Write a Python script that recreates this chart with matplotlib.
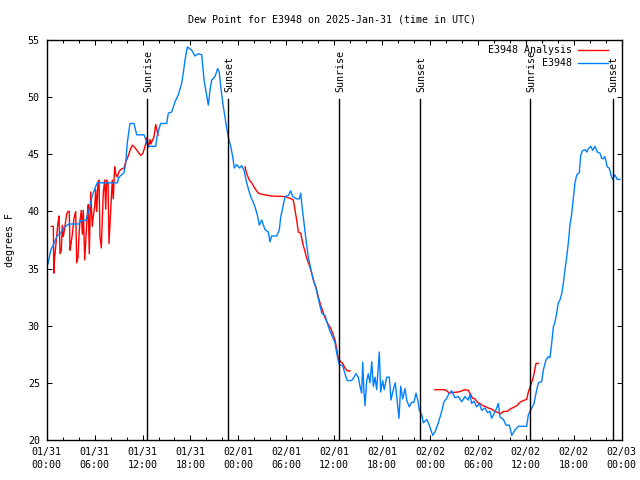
import numpy as np
import matplotlib
matplotlib.use("Agg")
import matplotlib.pyplot as plt
from matplotlib.ticker import MultipleLocator

plt.rcParams['font.family'] = ['DejaVu Sans Mono']
FS = 7.2

# hours since 2025-01-31 00:00 UTC
obs_hours = [0.16, 0.50, 0.91, 1.33, 1.75, 2.17, 2.79, 4.04, 4.26, 4.88, 5.30, 5.71, 6.14, 6.34, 8.84,
             9.05, 9.68, 9.89, 10.09, 10.43, 10.93, 11.27, 12.18, 12.40, 12.68, 13.65, 13.85, 14.27,
             15.03, 15.23, 15.65, 16.07, 16.48, 16.90, 17.10, 17.32, 17.61, 18.16, 18.57, 18.98, 19.41,
             19.70, 19.95, 20.24, 20.45, 20.66, 21.07, 21.41, 21.61, 21.79, 22.11, 22.45, 22.74, 23.04,
             23.29, 23.49, 23.79, 24.12, 24.42, 24.71, 24.96, 25.24, 25.54, 25.80, 26.08, 26.37, 26.62,
             26.92, 27.34, 27.75, 27.96, 28.17, 28.80, 29.13, 29.30, 29.55, 29.84, 30.25, 30.55, 30.80,
             31.31, 31.63, 31.81, 31.93, 32.22, 32.47, 32.76, 33.06, 33.38, 33.72, 34.13, 34.44, 34.85,
             35.14, 35.48, 35.81, 36.10, 36.31, 36.64, 37.07, 37.35, 37.64, 38.19, 38.48, 38.73, 39.02,
             39.23, 39.44, 39.57, 39.73, 39.86, 40.07, 40.27, 40.48, 40.70, 40.90, 41.11, 41.32, 41.65,
             41.82, 42.07, 42.27, 42.57, 42.90, 43.11, 43.40, 43.65, 43.83, 44.11, 44.33, 44.58, 44.87,
             45.08, 45.40, 45.71, 45.99, 46.24, 46.46, 46.66, 46.96, 47.16, 47.59, 47.91, 48.33, 48.62,
             49.04, 49.46, 49.75, 50.08, 50.41, 50.71, 50.91, 51.12, 51.54, 51.97, 52.38, 52.79, 53.00,
             53.21, 53.50, 53.84, 54.17, 54.47, 54.88, 55.22, 55.51, 55.72, 56.01, 56.35, 56.55, 56.76,
             57.18, 57.51, 57.93, 58.23, 58.65, 59.05, 60.10, 60.31, 60.73, 61.02, 61.27, 61.56, 61.98,
             62.18, 62.52, 62.81, 63.02, 63.24, 63.44, 63.65, 63.86, 64.06, 64.27, 64.49, 64.69, 64.90,
             65.11, 65.31, 65.52, 65.74, 65.94, 66.15, 66.37, 66.69, 66.87, 67.07, 67.41, 67.62, 67.82,
             68.12, 68.37, 68.66, 68.94, 69.28, 69.49, 69.69, 69.90, 70.19, 70.44, 70.65, 70.86, 71.15,
             71.44, 71.78]
obs_dewpt = [35.4, 36.6, 37.2, 37.9, 38.1, 38.6, 38.9, 38.9, 39.2, 39.2, 40.1, 41.4, 42.2, 42.5, 42.5,
             43.0, 43.4, 44.2, 46.0, 47.7, 47.7, 46.7, 46.7, 46.3, 45.7, 45.7, 46.7, 47.7,
             47.7, 48.6, 48.7, 49.6, 50.2, 51.2, 52.1, 53.25, 54.4, 54.1, 53.6, 53.8, 53.7,
             51.5, 50.5, 49.3, 50.6, 51.5, 51.8, 52.5, 52.2, 50.9, 49.2, 47.7, 46.5, 45.7,
             44.8, 43.8, 44.1, 43.8, 44.0, 43.6, 42.75, 42.0, 41.3, 40.9, 40.4, 39.7, 38.8,
             39.25, 38.4, 38.2, 37.35, 37.85, 37.85, 38.4, 39.5, 40.3, 41.3, 41.4, 41.8, 41.3,
             41.1, 41.1, 41.6, 40.7, 39.0, 37.5, 36.0, 35.0, 34.0, 33.3, 32.0, 31.1, 30.9,
             30.2, 29.5, 29.0, 28.5, 27.6, 26.6, 26.5, 25.8, 25.2, 25.2, 25.5, 25.8, 25.5,
             24.7, 24.1, 26.8, 24.2, 23.0, 25.2, 25.8, 25.0, 26.85, 24.7, 25.5, 24.4, 27.7,
             24.2, 25.2, 24.4, 25.5, 25.5, 23.5, 24.4, 25.0, 23.75, 21.9, 24.7, 23.6, 24.5,
             23.5, 22.9, 23.3, 23.3, 24.1, 23.5, 22.6, 22.2, 21.5, 21.8, 21.3, 20.4, 20.7,
             21.5, 22.5, 23.35, 23.65, 24.1, 24.3, 24.0, 23.7, 23.8, 23.35, 23.8, 23.5, 24.0,
             23.2, 23.4, 22.9, 23.2, 22.6, 22.8, 22.4, 22.5, 21.9, 22.3, 22.8, 23.2, 22.0,
             21.8, 21.3, 21.3, 20.4, 20.9, 21.2, 21.2, 22.2, 22.8, 23.2, 24.1, 25.0, 25.1,
             26.1, 27.0, 27.3, 27.2, 28.5, 29.9, 30.35, 31.1, 32.0, 32.25, 32.8, 33.7, 34.9,
             36.0, 37.2, 38.8, 39.8, 41.15, 42.5, 43.2, 43.4, 44.9, 45.3, 45.4, 45.2, 45.5,
             45.7, 45.35, 45.7, 45.2, 45.1, 44.65, 44.6, 44.8, 43.9, 43.8, 43.2, 42.8, 43.2,
             42.8, 42.8]

ana_hours = [0.58, 0.83, 0.89, 1.00, 1.25, 1.41, 1.54, 1.67, 1.83, 1.95, 2.08, 2.25, 2.38, 2.50, 2.67,
             2.83, 2.92, 3.01, 3.21, 3.42, 3.63, 3.76, 3.92, 4.04, 4.17, 4.33, 4.46, 4.58, 4.76, 4.88,
             5.01, 5.13, 5.21, 5.33, 5.51, 5.71, 5.84, 6.01, 6.14, 6.26, 6.42, 6.55, 6.67, 6.84, 6.96,
             7.09, 7.26, 7.39, 7.51, 7.68, 7.80, 7.93, 8.09, 8.21, 8.34, 8.51, 8.64, 8.84, 9.05, 9.34,
             9.68, 9.89, 10.18, 10.52, 10.72, 11.02, 11.35, 11.77, 12.06, 12.27, 12.52, 12.60, 12.68,
             12.80, 12.94, 13.06, 13.22, 13.43, 13.65, 13.85, 13.97,
             14.2,
             24.83, 25.04, 25.37, 25.67, 26.08, 26.50, 26.92, 28.17, 29.84, 30.47, 30.88, 31.09, 31.30,
             31.51, 31.81, 32.06, 32.34, 32.56, 32.88, 33.18, 33.47, 33.72, 34.01, 34.31, 34.64, 34.97,
             35.26, 35.56, 35.81, 36.10, 36.31, 36.51, 36.73, 37.07, 37.35, 37.64, 37.98,
             38.2,
             48.62, 49.87, 50.09, 50.41, 50.71, 51.54, 52.38, 52.79, 53.00, 53.34, 53.63, 53.92, 54.25,
             54.60, 54.88, 55.30, 55.72, 56.13, 56.55, 56.85, 57.18, 57.68, 58.02, 58.43, 58.86, 59.27,
             59.68, 60.10, 60.31, 60.61, 60.93, 61.27, 61.56]
ana_dewpt = [38.7, 38.7, 34.6, 36.0, 37.8, 39.0, 39.6, 36.3, 36.6, 38.8, 37.8, 38.5, 39.2, 39.8, 40.0,
             40.0, 36.6, 37.0, 38.0, 39.4, 40.0, 35.5, 36.0, 37.8, 39.2, 40.1, 38.0, 40.1, 35.75, 37.3,
             38.9, 40.1, 40.6, 36.3, 41.7, 38.7, 39.6, 40.4, 41.9, 40.0, 42.5, 42.75, 37.8, 36.8, 39.3,
             41.7, 42.75, 40.2, 42.75, 42.5, 37.2, 39.0, 41.3, 42.75, 41.1, 43.9, 43.3, 43.0, 43.5, 43.7,
             43.8, 44.3, 44.8, 45.5, 45.8, 45.6, 45.3, 44.9, 45.1, 45.6, 46.25, 46.5, 45.6,
             45.8, 46.3, 45.9, 46.2, 46.5, 47.6, 47.0, 46.7,
             np.nan,
             43.9, 43.3, 42.75, 42.5, 42.0, 41.6, 41.5, 41.35, 41.3, 41.15, 41.0, 40.1, 39.25,
             38.2, 38.1, 37.2, 36.5, 35.9, 35.3, 34.6, 33.85, 33.35, 32.5, 31.8, 31.1, 30.5,
             30.1, 29.8, 29.3, 28.75, 28.0, 27.15, 26.9, 26.7, 26.3, 26.05, 26.05,
             np.nan,
             24.4, 24.4, 24.3, 24.1, 24.15, 24.2, 24.4, 24.35, 24.1, 23.65, 23.6, 23.3, 23.2,
             23.0, 22.95, 22.8, 22.7, 22.5, 22.4, 22.3, 22.5, 22.5, 22.7, 22.85, 23.0, 23.3,
             23.45, 23.55, 24.2, 24.8, 25.5, 26.7, 26.7]

sun_hours = [12.60, 22.74, 36.64, 46.77, 60.56, 70.88]
sun_labels = ['Sunrise', 'Sunset', 'Sunrise', 'Sunset', 'Sunrise', 'Sunset']

tick_hours = list(range(0, 73, 6))
tick_labels = ['01/31\n00:00', '01/31\n06:00', '01/31\n12:00', '01/31\n18:00',
               '02/01\n00:00', '02/01\n06:00', '02/01\n12:00', '02/01\n18:00',
               '02/02\n00:00', '02/02\n06:00', '02/02\n12:00', '02/02\n18:00',
               '02/03\n00:00']

fig = plt.figure(figsize=(6.4, 4.8), dpi=100)
ax = fig.add_axes([46.7/640, 40/480, 575/640, 400/480])

ax.plot(ana_hours, ana_dewpt, color='#ff0000', lw=1.0, label='E3948 Analysis')
ax.plot(obs_hours, obs_dewpt, color='#0080ff', lw=1.0, label='E3948')

for h, lab in zip(sun_hours, sun_labels):
    ax.plot([h, h], [0, 0.8525], color='black', lw=1.0,
            transform=ax.get_xaxis_transform())
    ax.text(h + 0.12, 0.87, lab, rotation=90, ha='center', va='bottom',
            fontsize=FS, transform=ax.get_xaxis_transform())

ax.set_xlim(0, 72)
ax.set_ylim(20, 55)
ax.set_xticks(tick_hours)
ax.set_xticklabels(tick_labels, fontsize=FS, linespacing=1.4)
ax.xaxis.set_minor_locator(MultipleLocator(2))
ax.yaxis.set_major_locator(MultipleLocator(5))
ax.tick_params(axis='y', labelsize=FS)
ax.tick_params(which='both', direction='in', top=True, right=True, width=0.75)
ax.tick_params(which='major', length=3.5)
ax.tick_params(which='minor', length=2.0)
ax.tick_params(axis='x', pad=5)
ax.tick_params(axis='y', pad=5)
for s in ax.spines.values():
    s.set_linewidth(1.0)

ax.set_ylabel('degrees F', fontsize=FS, labelpad=9)
fig.text(0.5189, 1 - 19/480, 'Dew Point for E3948 on 2025-Jan-31 (time in UTC)',
         ha='center', va='center', fontsize=FS)

ax.legend(loc='upper right', bbox_to_anchor=(1 - 6/575, 1 + 2.5/400),
          frameon=False, markerfirst=False, fontsize=FS,
          handlelength=3.0, handletextpad=0.6, labelspacing=0.3,
          borderaxespad=0.5, borderpad=0.3)

fig.savefig('out.png', dpi=100)
